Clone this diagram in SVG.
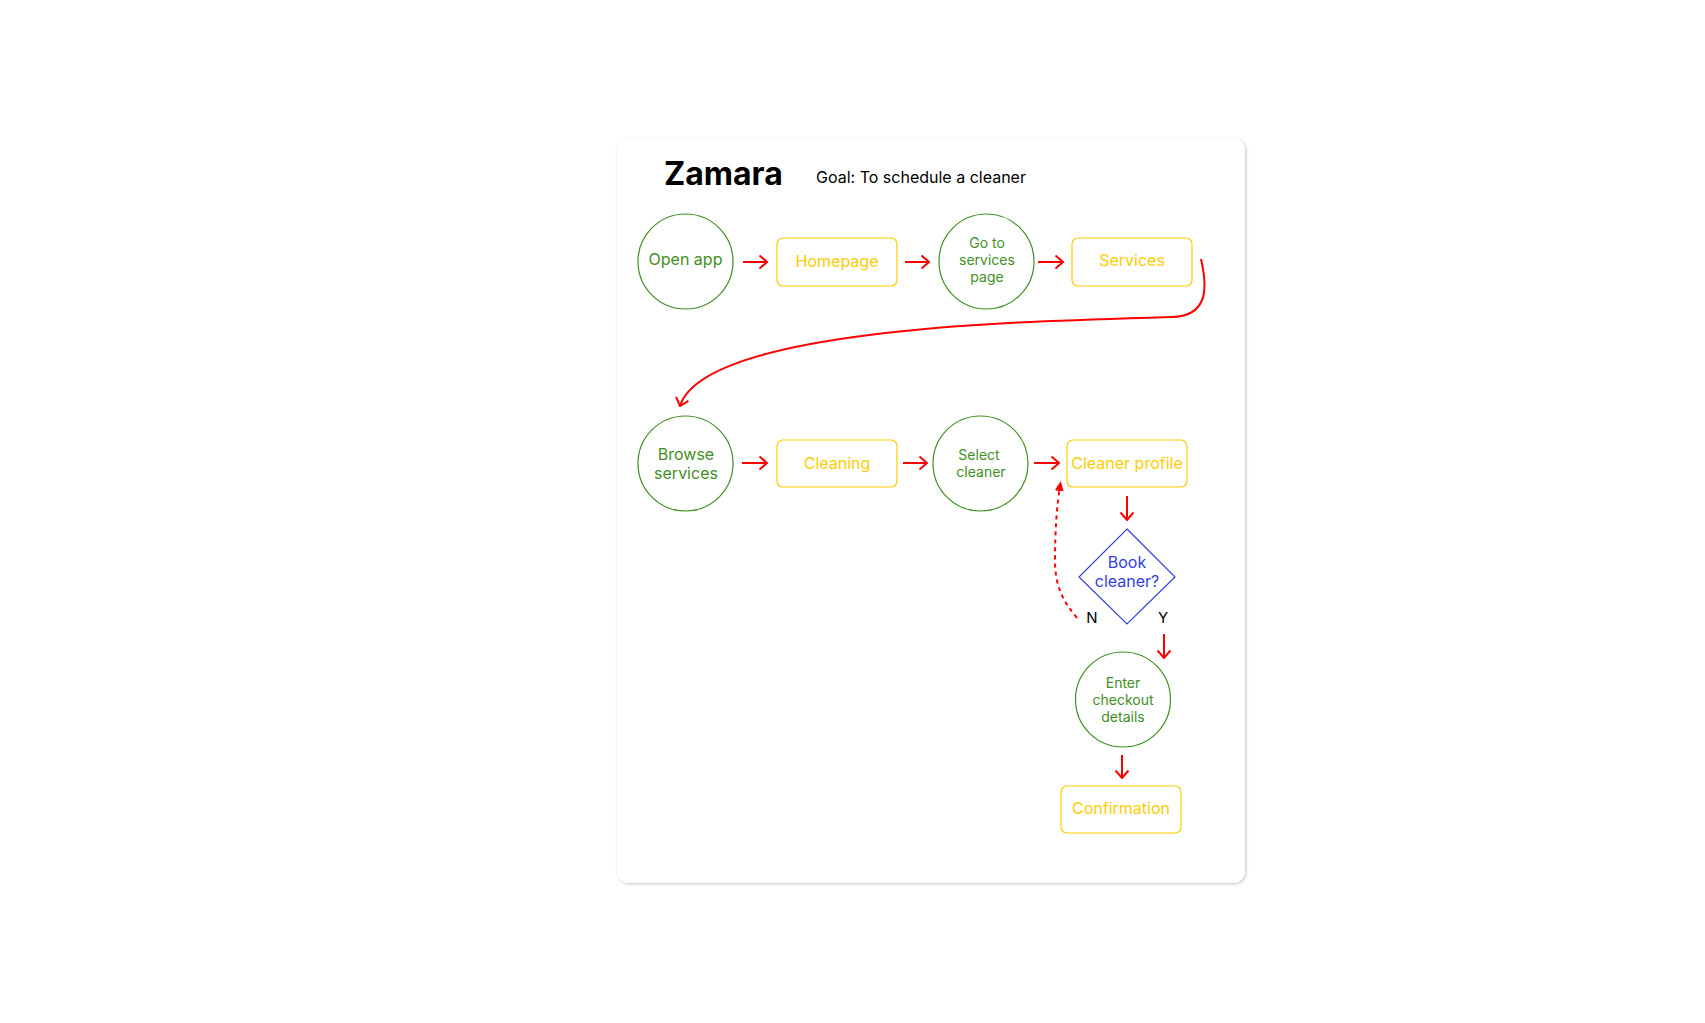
<svg xmlns="http://www.w3.org/2000/svg" width="1705" height="1023" viewBox="0 0 1705 1023">
<style>
text{font-family:Inter,"Liberation Sans",sans-serif}
.circ{fill:none;stroke:#3f8f22;stroke-width:1.2}
.ct{fill:#3f8f22;text-anchor:middle}
.box{fill:none;stroke:#ffcc00;stroke-width:1.2}
.bt{fill:#ffcc00;text-anchor:middle;font-size:16px}
.arr{fill:none;stroke:#ff0000;stroke-width:2;marker-end:url(#chev)}
.lbl{fill:#000;font-size:15px;text-anchor:middle}
</style>
<defs>
<marker id="chev" viewBox="0 0 12 14" refX="11" refY="7" markerWidth="12" markerHeight="14" markerUnits="userSpaceOnUse" orient="auto">
<path d="M3.5,0.5 L11,7 L3.5,13.5" fill="none" stroke="#ff0000" stroke-width="2"/>
</marker>
<marker id="tri" viewBox="0 0 10 10" refX="5" refY="5" markerWidth="10" markerHeight="10" markerUnits="userSpaceOnUse" orient="auto">
<path d="M0,0.5 L10,5 L0,9.5 Z" fill="#ff0000"/>
</marker>
<filter id="sh" x="-5%" y="-5%" width="110%" height="110%">
<feDropShadow dx="1" dy="1" stdDeviation="1.5" flood-color="#000" flood-opacity="0.25"/>
</filter>
</defs>
<rect x="0" y="0" width="1705" height="1023" fill="#fff"/>
<rect x="617" y="138" width="628" height="745" rx="12" fill="#fff" filter="url(#sh)"/>
<text x="664" y="185" font-size="32" font-weight="700" fill="#000">Zamara</text>
<text x="816" y="183" font-size="16" fill="#000">Goal: To schedule a cleaner</text>

<g id="open-app"><circle class="circ" cx="685.5" cy="261.5" r="47.5"/><text class="ct" x="685.5" y="265" font-size="16">Open app</text></g>
<g id="homepage"><rect class="box" x="777" y="238" width="120" height="48" rx="6"/><text class="bt" x="837" y="267">Homepage</text></g>
<g id="go-services"><circle class="circ" cx="986.5" cy="261.5" r="47.5"/><text class="ct" font-size="14"><tspan x="987" y="248">Go to</tspan><tspan x="987" y="265">services</tspan><tspan x="987" y="282">page</tspan></text></g>
<g id="services"><rect class="box" x="1072" y="238" width="120" height="48" rx="6"/><text class="bt" x="1132" y="266">Services</text></g>

<g id="browse"><circle class="circ" cx="685.5" cy="463.5" r="47.5"/><text class="ct" font-size="16"><tspan x="686" y="460">Browse</tspan><tspan x="686" y="479">services</tspan></text></g>
<g id="cleaning"><rect class="box" x="777" y="440" width="120" height="47" rx="6"/><text class="bt" x="837" y="469">Cleaning</text></g>
<g id="select"><circle class="circ" cx="980.5" cy="463.5" r="47.5"/><text class="ct" font-size="14"><tspan x="979" y="460">Select</tspan><tspan x="981" y="477">cleaner</tspan></text></g>
<g id="profile"><rect class="box" x="1067" y="440" width="120" height="47" rx="6"/><text class="bt" x="1127" y="469">Cleaner profile</text></g>
<g id="book"><path d="M1127,529 L1175,577 L1127,624 L1079,577 Z" fill="none" stroke="#3340e0" stroke-width="1.2"/><text fill="#3340e0" font-size="16" text-anchor="middle"><tspan x="1127" y="568">Book</tspan><tspan x="1127" y="587">cleaner?</tspan></text></g>
<g id="checkout"><circle class="circ" cx="1123" cy="699.5" r="47.5"/><text class="ct" font-size="14"><tspan x="1123" y="688">Enter</tspan><tspan x="1123" y="705">checkout</tspan><tspan x="1123" y="722">details</tspan></text></g>
<g id="confirmation"><rect class="box" x="1061" y="786" width="120" height="47" rx="6"/><text class="bt" x="1121" y="814">Confirmation</text></g>

<g id="connectors">
<path class="arr" d="M743,262 H767"/>
<path class="arr" d="M905,262 H929"/>
<path class="arr" d="M1038,262 H1063"/>
<path class="arr" d="M1201,259 C1207,285 1210,316 1172,317 C1040,321 705,326 680,406"/>
<path class="arr" d="M742,463 H767"/>
<path class="arr" d="M903,463 H927"/>
<path class="arr" d="M1034,463 H1059"/>
<path class="arr" d="M1127,496 V520"/>
<path class="arr" d="M1164,634 V658"/>
<path class="arr" d="M1122,755 V778"/>
<path d="M1077,618 C1062,600 1055,585 1055,560 C1055,530 1057,505 1060,486" fill="none" stroke="#ff0000" stroke-width="2" stroke-dasharray="4 4" marker-end="url(#tri)"/>
<text class="lbl" x="1092" y="623">N</text>
<text class="lbl" x="1163" y="623">Y</text>
</g>
</svg>
